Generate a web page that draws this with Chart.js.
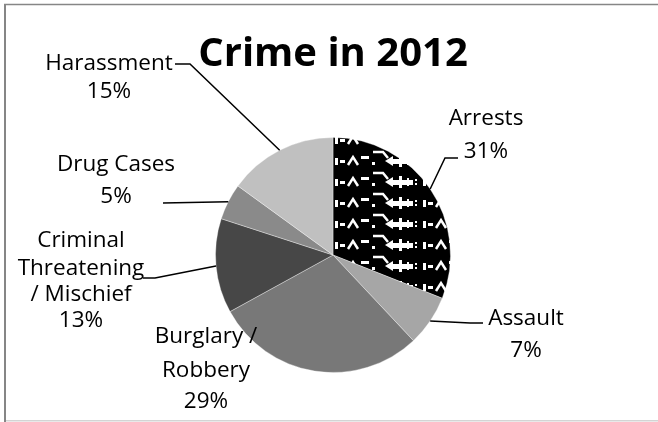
<!DOCTYPE html>
<html>
<head>
<meta charset="utf-8">
<script src="https://cdn.jsdelivr.net/npm/chart.js@4.4.1/dist/chart.umd.min.js"></script>
<style>
  body { margin: 0; background: #fff; }
  canvas { display: block; }
</style>
</head>
<body>
<canvas id="crimeChart" width="658" height="422"></canvas>
<script>
// data
var categories = [["Arrests"], ["Assault"], ["Burglary /", "Robbery"],
  ["Criminal", "Threatening", "/ Mischief"], ["Drug Cases"], ["Harassment"]];
var percents = [31, 7, 29, 13, 5, 15];
var titleText = "Crime in 2012";

// label placement: text centre x, baseline of each line, leader elbow/end
var labelSpots = [
  { x: 486, lines: [125, 158], leader: [[445, 158], [458, 158]] },
  { x: 526, lines: [325, 357], leader: [[470, 323], [483, 323]] },
  { x: 206, lines: [343, 377, 408], leader: null },
  { x: 81, lines: [247, 275, 301, 327], leader: [[155, 278], [143, 278]] },
  { x: 116, lines: [171, 203], leader: [[163, 203]] },
  { x: 109, lines: [70, 98], leader: [[190, 64], [175, 64]] }
];

// black fill with the odd white glyph pattern for Arrests
function makeArrestsPattern(ctx) {
  var tile = document.createElement("canvas");
  tile.width = 88;
  tile.height = 21;
  var t = tile.getContext("2d");
  t.fillStyle = "#000";
  t.fillRect(0, 0, 88, 21);
  t.fillStyle = "#fff";
  t.strokeStyle = "#fff";
  t.lineWidth = 2.5;
  t.fillRect(2, 8, 3, 7);       // |
  t.fillRect(7, 10, 5, 3);      // -
  t.beginPath();                // ^
  t.moveTo(15, 15); t.lineTo(20, 7); t.lineTo(25, 15);
  t.stroke();
  t.fillRect(28, 6, 8, 3);      // macron
  t.fillRect(39, 12, 3, 3);     // dot
  t.beginPath();                // top bar and slope
  t.moveTo(40, 2); t.lineTo(50, 2); t.lineTo(55, 8);
  t.stroke();
  t.beginPath();                // wedge
  t.moveTo(52, 11); t.lineTo(60, 6); t.lineTo(60, 16);
  t.fill();
  t.fillRect(58, 9, 22, 5);     // bar
  t.fillRect(66, 5, 3, 12);     // cross
  t.fillRect(74, 7, 2, 8);
  t.fillRect(82, 8, 2, 2);      // colon
  t.fillRect(82, 12, 2, 2);
  var p = ctx.createPattern(tile, "repeat");
  p.setTransform(new DOMMatrix([1, 0, 0, 1, 333, 171]));
  return p;
}

var labelPlugin = {
  id: "crimeLabels",
  afterDraw: function(chart) {
    var ctx = chart.ctx;
    ctx.save();

    // frame
    ctx.lineWidth = 1.5;
    ctx.strokeStyle = "#868686";
    ctx.beginPath();
    ctx.moveTo(4, 4.5); ctx.lineTo(658, 4.5);
    ctx.stroke();
    ctx.lineWidth = 2;
    ctx.beginPath();
    ctx.moveTo(5, 4); ctx.lineTo(5, 422);
    ctx.stroke();
    ctx.lineWidth = 1.5;
    ctx.strokeStyle = "#d4d4d4";
    ctx.beginPath();
    ctx.moveTo(6, 420.8); ctx.lineTo(658, 420.8);
    ctx.stroke();

    // title
    ctx.fillStyle = "#000";
    ctx.font = "bold 40px 'Open Sans'";
    ctx.textAlign = "center";
    ctx.textBaseline = "alphabetic";
    ctx.fillText(titleText, 333, 66);

    var meta = chart.getDatasetMeta(0);
    ctx.font = "22.5px 'Open Sans'";
    meta.data.forEach(function(arc, i) {
      var spot = labelSpots[i];
      var texts = categories[i].concat([percents[i] + "%"]);
      texts.forEach(function(s, j) {
        ctx.fillText(s, spot.x, spot.lines[j]);
      });
      if (spot.leader) {
        var mid = (arc.startAngle + arc.endAngle) / 2;
        ctx.strokeStyle = "#000";
        ctx.lineWidth = 1.5;
        ctx.beginPath();
        ctx.moveTo(arc.x + Math.cos(mid) * arc.outerRadius, arc.y + Math.sin(mid) * arc.outerRadius);
        spot.leader.forEach(function(pt) { ctx.lineTo(pt[0], pt[1]); });
        ctx.stroke();
      }
    });
    ctx.restore();
  }
};

var ctx = document.getElementById("crimeChart").getContext("2d");
var crimeChart = new Chart(ctx, {
  type: "pie",
  data: {
    labels: categories,
    datasets: [{
      data: percents,
      backgroundColor: [makeArrestsPattern(ctx), "#a6a6a6", "#787878", "#474747", "#8a8a8a", "#c0c0c0"],
      borderColor: "rgba(255,255,255,0.35)",
      borderWidth: 1
    }]
  },
  options: {
    responsive: false,
    animation: false,
    layout: {
      padding: { top: 137, bottom: 49, left: 215, right: 207 }
    },
    plugins: {
      legend: { display: false },
      title: { display: false },
      tooltip: { enabled: false }
    }
  },
  plugins: [labelPlugin]
});
</script>
</body>
</html>
